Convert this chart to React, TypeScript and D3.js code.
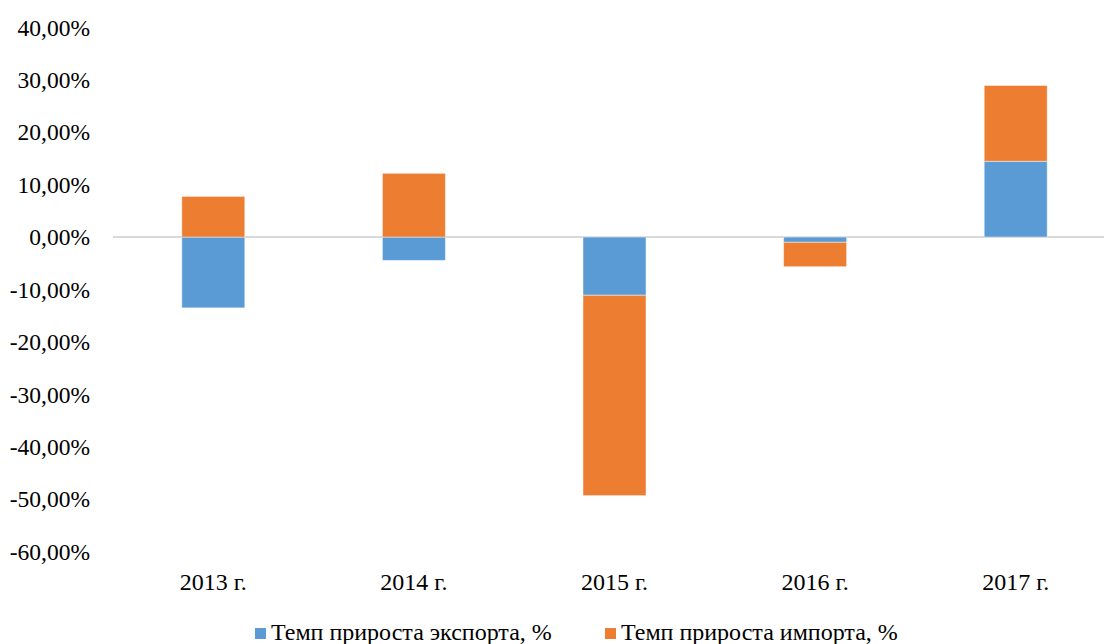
import { useEffect, useRef } from 'react';
import * as d3 from 'd3';

const years = ['2013 г.', '2014 г.', '2015 г.', '2016 г.', '2017 г.'];
const exportGrowth = [-13.5, -4.45, -11.1, -1.0, 14.45];
const importGrowth = [7.75, 12.15, -38.2, -4.65, 14.45];
const seriesNames = ['Темп прироста экспорта, %', 'Темп прироста импорта, %'];
const seriesColors = ['#5b9bd5', '#ed7d31'];
const yTicks = [40, 30, 20, 10, 0, -10, -20, -30, -40, -50, -60];

const W = 1104;
const H = 644;
const FONT = 'Liberation Serif, DejaVu Serif, serif';

export default function App() {
  const svgRef = useRef<SVGSVGElement>(null);

  useEffect(() => {
    if (!svgRef.current) return;
    const svg = d3.select(svgRef.current);
    svg.selectAll('*').remove();

    const rows = years.map((year, i) => ({
      year,
      exp: exportGrowth[i],
      imp: importGrowth[i],
    }));

    const stack = d3
      .stack<{ year: string; exp: number; imp: number }>()
      .keys(['exp', 'imp'])
      .offset(d3.stackOffsetDiverging);
    const layers = stack(rows);

    const x = d3
      .scaleBand<string>()
      .domain(years)
      .range([113, 1116])
      .paddingInner(0.686)
      .paddingOuter(0.343);

    const y = d3.scaleLinear().domain([-60, 40]).range([551.7, 27.3]);

    // zero line
    svg
      .append('line')
      .attr('x1', 113)
      .attr('x2', W)
      .attr('y1', y(0))
      .attr('y2', y(0))
      .attr('stroke', '#d9d9d9')
      .attr('stroke-width', 2);

    // bars
    svg
      .append('g')
      .selectAll('g')
      .data(layers)
      .join('g')
      .attr('fill', (_, i) => seriesColors[i])
      .selectAll('rect')
      .data((d) => d)
      .join('rect')
      .attr('x', (d) => x(d.data.year)!)
      .attr('width', x.bandwidth())
      .attr('y', (d) => y(Math.max(d[0], d[1])))
      .attr('height', (d) => Math.abs(y(d[0]) - y(d[1])))
      .attr('stroke', 'rgba(255,255,255,0.45)')
      .attr('stroke-width', 1);

    // y axis labels
    svg
      .append('g')
      .selectAll('text')
      .data(yTicks)
      .join('text')
      .attr('x', 90)
      .attr('y', (d) => y(d))
      .attr('dy', '0.35em')
      .attr('text-anchor', 'end')
      .attr('font-family', FONT)
      .attr('font-size', 23.5)
      .attr('fill', '#000')
      .text((d) => d3.format('.2f')(d).replace('.', ',').replace('−', '-') + '%');

    // x axis labels
    svg
      .append('g')
      .selectAll('text')
      .data(years)
      .join('text')
      .attr('x', (d) => x(d)! + x.bandwidth() / 2)
      .attr('y', 582)
      .attr('dy', '0.35em')
      .attr('text-anchor', 'middle')
      .attr('font-family', FONT)
      .attr('font-size', 24)
      .attr('fill', '#000')
      .text((d) => d);

    // legend
    const legendX = [255, 605];
    const legend = svg
      .append('g')
      .selectAll('g')
      .data(seriesNames)
      .join('g')
      .attr('transform', (_, i) => `translate(${legendX[i]},632)`);
    legend
      .append('rect')
      .attr('x', 0)
      .attr('y', -4)
      .attr('width', 11)
      .attr('height', 11)
      .attr('fill', (_, i) => seriesColors[i]);
    legend
      .append('text')
      .attr('x', 16)
      .attr('y', 0)
      .attr('dy', '0.35em')
      .attr('font-family', FONT)
      .attr('font-size', 24)
      .attr('fill', '#000')
      .text((d) => d);
  }, []);

  return (
    <svg
      ref={svgRef}
      width={W}
      height={H}
      style={{ position: 'absolute', left: 0, top: 0, background: '#fff' }}
    />
  );
}
